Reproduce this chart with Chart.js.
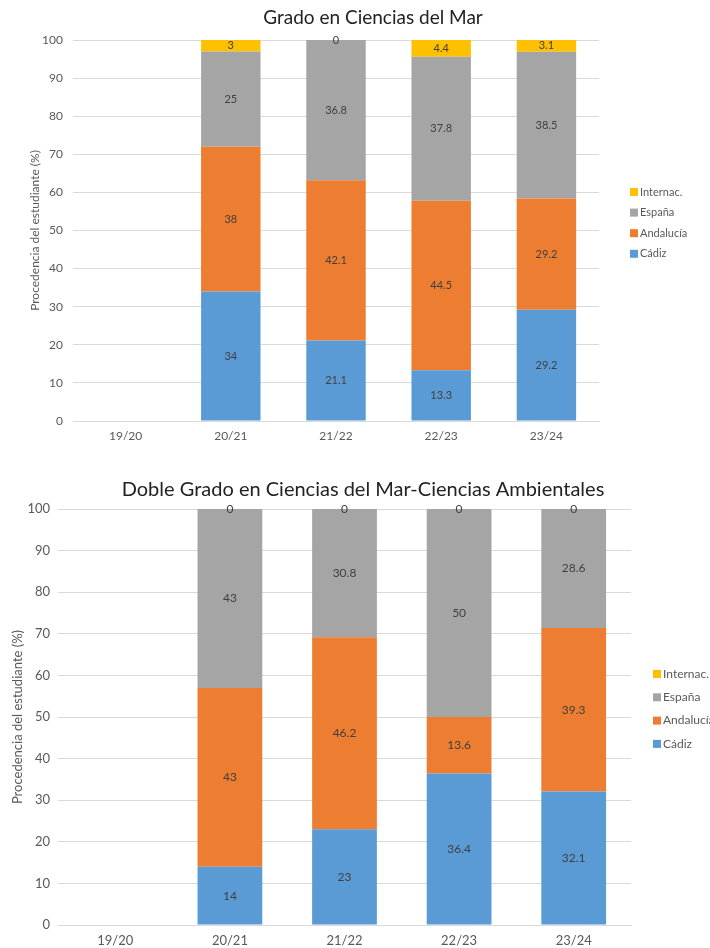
<!DOCTYPE html>
<html>
<head>
<meta charset="utf-8">
<script src="https://cdn.jsdelivr.net/npm/chart.js@4.4.1/dist/chart.umd.min.js"></script>
<style>
  body { margin: 0; background: #fff; }
  .box { position: absolute; left: 0; width: 710px; }
</style>
</head>
<body>
<div class="box" style="top:0;height:460px"><canvas id="c1" width="710" height="460"></canvas></div>
<div class="box" style="top:470px;height:478px"><canvas id="c2" width="710" height="478"></canvas></div>
<script>
const cursos = ['19/20', '20/21', '21/22', '22/23', '23/24'];
const series = ['Cádiz', 'Andalucía', 'España', 'Internac.'];
const colores = ['#5B9BD5', '#ED7D31', '#A5A5A5', '#FFC000'];

// Grado en Ciencias del Mar
const marCadiz = [null, 34, 21.1, 13.3, 29.2];
const marAndalucia = [null, 38, 42.1, 44.5, 29.2];
const marEspana = [null, 25, 36.8, 37.8, 38.5];
const marInternac = [null, 3, 0, 4.4, 3.1];

// Doble Grado
const dobleCadiz = [null, 14, 23, 36.4, 32.1];
const dobleAndalucia = [null, 43, 46.2, 13.6, 39.3];
const dobleEspana = [null, 43, 30.8, 50, 28.6];
const dobleInternac = [null, 0, 0, 0, 0];

const yTicks = [0, 10, 20, 30, 40, 50, 60, 70, 80, 90, 100];
const FONT = 'Lato, "Noto Sans", sans-serif';

// numbers in the middle of every segment
const valueLabels = {
  id: 'valueLabels',
  afterDatasetsDraw(chart) {
    const ctx = chart.ctx;
    ctx.save();
    ctx.font = chart.options.plugins.decor.valSize + 'px ' + FONT;
    ctx.fillStyle = '#404040';
    ctx.textAlign = 'center';
    ctx.textBaseline = 'middle';
    chart.data.datasets.forEach((ds, i) => {
      chart.getDatasetMeta(i).data.forEach((bar, j) => {
        const v = ds.data[j];
        if (v === null) return;
        ctx.fillText(String(v), bar.x, (bar.y + bar.base) / 2);
      });
    });
    ctx.restore();
  }
};

// title and legend drawn like the excel original
const decor = {
  id: 'decor',
  afterDraw(chart) {
    const o = chart.options.plugins.decor;
    const ctx = chart.ctx;
    ctx.save();
    ctx.font = o.titleSize + 'px ' + FONT;
    ctx.fillStyle = '#222';
    ctx.textAlign = 'center';
    ctx.textBaseline = 'middle';
    ctx.fillText(o.title, o.titleX, o.titleY);

    ctx.font = o.legSize + 'px ' + FONT;
    ctx.textAlign = 'left';
    const ds = chart.data.datasets;
    for (let k = 0; k < ds.length; k++) {
      const d = ds[ds.length - 1 - k];
      const y = o.legY + k * o.legGap;
      ctx.fillStyle = d.backgroundColor;
      ctx.fillRect(o.legX, y - 4, 8, 8);
      ctx.fillStyle = '#595959';
      ctx.fillText(d.label, o.legX + 10, y);
    }
    ctx.restore();
  }
};

function makeChart(id, data, cfg) {
  const datasets = series.map((s, i) => ({
    label: s,
    data: data[i],
    backgroundColor: colores[i],
    categoryPercentage: 1,
    barPercentage: 0.565
  }));
  return new Chart(document.getElementById(id), {
    type: 'bar',
    data: { labels: cursos, datasets: datasets },
    plugins: [valueLabels, decor],
    options: {
      responsive: false,
      animation: false,
      layout: { padding: { top: cfg.top, right: cfg.right, left: 0, bottom: 0 } },
      plugins: {
        legend: { display: false },
        tooltip: { enabled: false },
        decor: cfg.decor
      },
      scales: {
        x: {
          stacked: true,
          grid: { display: false, drawTicks: false },
          border: { color: '#D9D9D9' },
          ticks: { color: '#595959', font: { family: FONT, size: cfg.tickSize }, padding: cfg.xPad },
          afterFit(s) { s.height = cfg.xHeight; }
        },
        y: {
          stacked: true,
          min: 0,
          max: 100,
          afterBuildTicks(s) { s.ticks = yTicks.map(v => ({ value: v })); },
          grid: { color: '#D9D9D9', drawTicks: false },
          border: { display: false },
          ticks: { color: '#595959', font: { family: FONT, size: cfg.tickSize }, padding: cfg.yPad },
          title: {
            display: true,
            text: 'Procedencia del estudiante (%)',
            color: '#595959',
            font: { family: FONT, size: cfg.yTitleSize },
            padding: { top: cfg.titlePad }
          },
          afterFit(s) { s.width = cfg.left; }
        }
      }
    }
  });
}

makeChart('c1', [marCadiz, marAndalucia, marEspana, marInternac], {
  top: 40, right: 111, left: 73, xHeight: 39, xPad: 8, yPad: 10, titlePad: 28, yTitleSize: 12, tickSize: 12,
  decor: { title: 'Grado en Ciencias del Mar', titleX: 373, titleY: 18, titleSize: 19,
           legX: 630, legY: 192, legGap: 20.6, legSize: 11, valSize: 11 }
});

makeChart('c2', [dobleCadiz, dobleAndalucia, dobleEspana, dobleInternac], {
  top: 39, right: 79, left: 58, xHeight: 23, xPad: 8, yPad: 8, titlePad: 10, yTitleSize: 13, tickSize: 13,
  decor: { title: 'Doble Grado en Ciencias del Mar-Ciencias Ambientales', titleX: 363, titleY: 20, titleSize: 20,
           legX: 653, legY: 204, legGap: 23.3, legSize: 12, valSize: 12 }
});
</script>
</body>
</html>
